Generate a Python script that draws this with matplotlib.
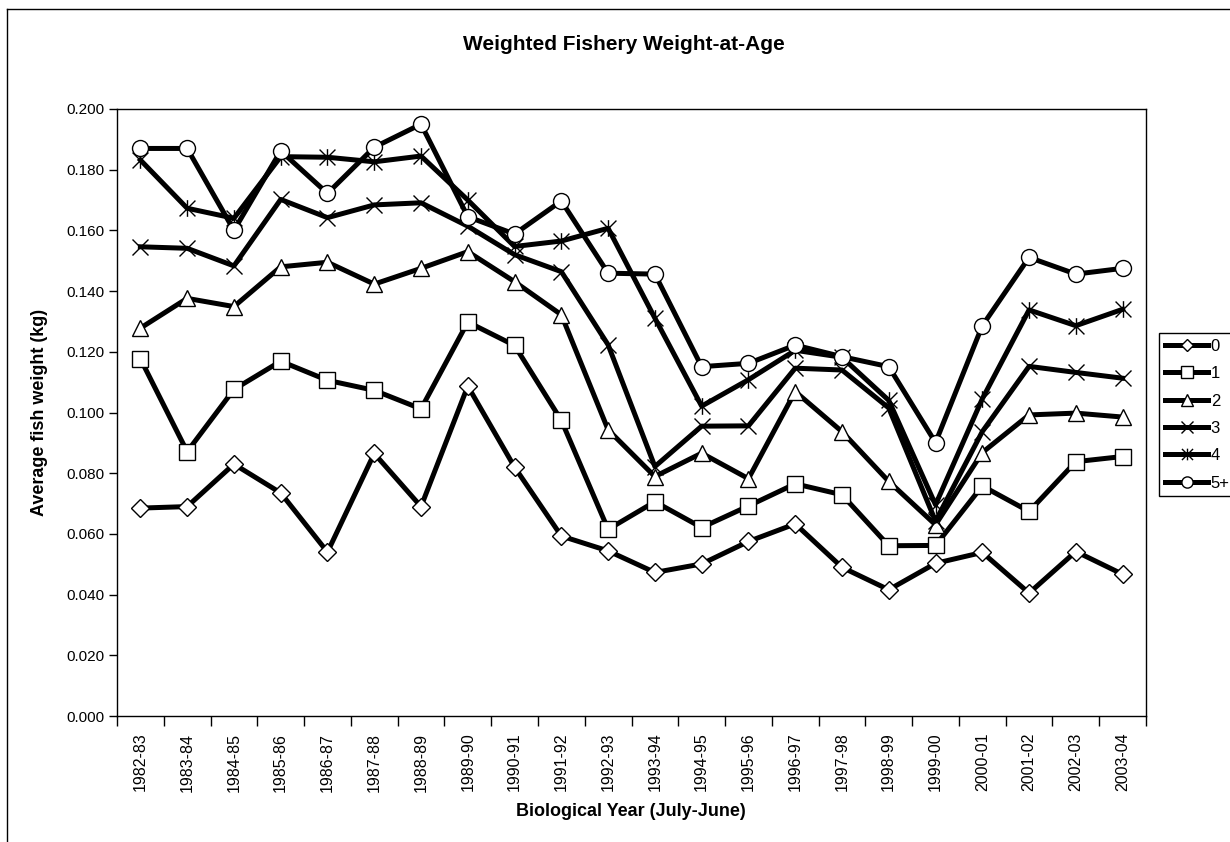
import matplotlib
matplotlib.use("Agg")
import matplotlib.pyplot as plt
import numpy as np
from matplotlib.path import Path
from matplotlib.lines import Line2D

plt.rcParams['font.family'] = ['Liberation Sans', 'DejaVu Sans']

# Biological years (July-June)
years = ['1982-83', '1983-84', '1984-85', '1985-86', '1986-87', '1987-88',
         '1988-89', '1989-90', '1990-91', '1991-92', '1992-93', '1993-94',
         '1994-95', '1995-96', '1996-97', '1997-98', '1998-99', '1999-00',
         '2000-01', '2001-02', '2002-03', '2003-04']

# average weight (kg) by age class
age0 = [0.0685, 0.069, 0.083, 0.0735, 0.054, 0.0865, 0.069, 0.1087, 0.082, 0.0593, 0.0544,
        0.0473, 0.0501, 0.0575, 0.0633, 0.049, 0.0416, 0.0503, 0.0539, 0.0405, 0.0542, 0.0467]
age1 = [0.1177, 0.0871, 0.1076, 0.1169, 0.1106, 0.1073, 0.1012, 0.1298, 0.1221, 0.0974, 0.0615,
        0.0706, 0.0621, 0.0692, 0.0765, 0.0729, 0.0561, 0.0562, 0.0758, 0.0674, 0.0838, 0.0855]
age2 = [0.1278, 0.1376, 0.1349, 0.148, 0.1495, 0.1423, 0.1475, 0.153, 0.1431, 0.1322, 0.0943,
        0.0789, 0.0866, 0.0782, 0.1069, 0.0937, 0.0773, 0.0630, 0.0868, 0.0992, 0.0998, 0.0985]
age3 = [0.1546, 0.1541, 0.1483, 0.1702, 0.1642, 0.1684, 0.1691, 0.1614, 0.152, 0.1464, 0.1223,
        0.0822, 0.0955, 0.0956, 0.1146, 0.114, 0.1015, 0.0642, 0.0937, 0.1152, 0.1132, 0.1113]
age4 = [0.1832, 0.1673, 0.164, 0.1843, 0.1841, 0.1826, 0.1845, 0.170, 0.1547, 0.1565, 0.1607,
        0.1311, 0.1021, 0.1108, 0.1205, 0.1182, 0.1040, 0.0696, 0.1045, 0.1338, 0.1286, 0.134]
age5 = [0.187, 0.187, 0.160, 0.1862, 0.1722, 0.1874, 0.195, 0.1645, 0.1588, 0.1697, 0.1459,
        0.1456, 0.1151, 0.1162, 0.1222, 0.1184, 0.1151, 0.0901, 0.1286, 0.1511, 0.1456, 0.1475]

labels = ['0', '1', '2', '3', '4', '5+']

# Excel-style star: an X with a vertical bar through it
star = Path([(-1, -1), (1, 1), (-1, 1), (1, -1), (0, -1.05), (0, 1.05)],
            [Path.MOVETO, Path.LINETO, Path.MOVETO, Path.LINETO, Path.MOVETO, Path.LINETO])

markers = ['D', 's', '^', 'x', star, 'o']
msizes = [8.8, 11.5, 12.0, 12.0, 12.0, 11.5]

fig = plt.figure(figsize=(12.3, 8.42), dpi=100)
ax = fig.add_axes([117 / 1230, 1 - 716 / 842, (1146 - 117) / 1230, (716 - 109) / 842])

x = np.arange(len(years))
series = [age0, age1, age2, age3, age4, age5]
for vals, lab, mk, ms in zip(series, labels, markers, msizes):
    ax.plot(x, vals, color='black', linewidth=3.6, marker=mk, markersize=ms,
            markerfacecolor='white', markeredgecolor='black', markeredgewidth=1.0,
            label=lab)

ax.set_xlim(-0.5, len(years) - 0.5)
ax.set_ylim(0, 0.2)
ax.set_yticks(np.arange(0, 0.2001, 0.02))
ax.set_yticklabels(['%.3f' % v for v in np.arange(0, 0.2001, 0.02)], fontsize=11)
ax.tick_params(axis='y', direction='out', length=6, width=1, pad=3)

ax.set_xticks(x)
ax.set_xticklabels(years, rotation=90, fontsize=11.5)
ax.tick_params(axis='x', which='major', length=0, pad=12)
ax.set_xticks(np.arange(-0.5, len(years)), minor=True)
ax.tick_params(axis='x', which='minor', direction='out', length=7, width=1)

for s in ax.spines.values():
    s.set_linewidth(1.0)

fig.text(624 / 1230, 1 - 45 / 842, 'Weighted Fishery Weight-at-Age', ha='center', va='center',
         fontsize=15, fontweight='bold')
fig.text(40 / 1230, 1 - 412 / 842, 'Average fish weight (kg)', ha='center', va='center',
         rotation=90, fontsize=13, fontweight='bold')
fig.text(631 / 1230, 1 - 812 / 842, 'Biological Year (July-June)', ha='center', va='center',
         fontsize=13, fontweight='bold')

leg = fig.legend(loc='upper left', bbox_to_anchor=(1159 / 1230, 1 - 333 / 842),
                 bbox_transform=fig.transFigure, borderaxespad=0, fancybox=False,
                 edgecolor='black', fontsize=12, markerscale=0.7, handlelength=2.6,
                 handletextpad=0.15, labelspacing=0.74, borderpad=0.35, framealpha=1)
leg.get_frame().set_linewidth(1.0)

# outer chart-area border (only top and left visible in the crop)
fig.add_artist(Line2D([7 / 1230, 7 / 1230], [0, 1 - 9 / 842], transform=fig.transFigure,
                      color='black', linewidth=1.0))
fig.add_artist(Line2D([7 / 1230, 1], [1 - 9 / 842, 1 - 9 / 842], transform=fig.transFigure,
                      color='black', linewidth=1.0))

fig.savefig('out.png', dpi=100)
